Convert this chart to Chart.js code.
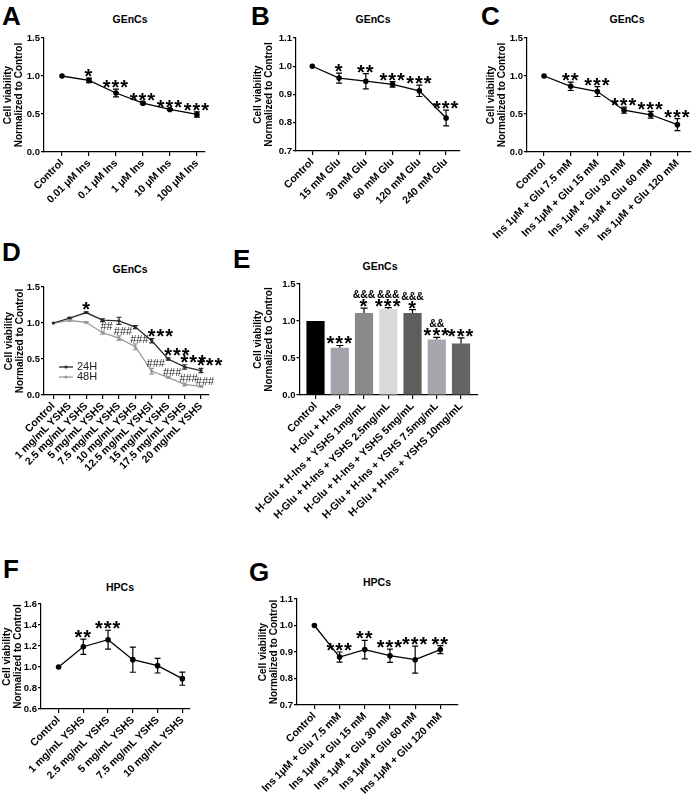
<!DOCTYPE html>
<html>
<head>
<meta charset="utf-8">
<script src="https://cdn.jsdelivr.net/npm/chart.js@4.4.0/dist/chart.umd.min.js"></script>
<style>
  body { margin: 0; background: #fff; width: 699px; height: 795px; position: relative; overflow: hidden; }
  canvas { position: absolute; }
  .lt { position: absolute; font: bold 26px 'Liberation Sans', Arial, sans-serif; line-height: 1; color: #000; }
  .tt { position: absolute; font: bold 10.5px 'Liberation Sans', Arial, sans-serif; line-height: 12px; transform: translateX(-50%); white-space: nowrap; color: #000; }
</style>
</head>
<body>
<div class="lt" style="left:2px;top:3px">A</div>
<div class="lt" style="left:251px;top:3px">B</div>
<div class="lt" style="left:481px;top:3px">C</div>
<div class="lt" style="left:2px;top:239px">D</div>
<div class="lt" style="left:233px;top:246px">E</div>
<div class="lt" style="left:3px;top:556px">F</div>
<div class="lt" style="left:249px;top:559px">G</div>

<div class="tt" style="left:130px;top:13px">GEnCs</div>
<div class="tt" style="left:373px;top:13px">GEnCs</div>
<div class="tt" style="left:627px;top:13px">GEnCs</div>
<div class="tt" style="left:130px;top:263px">GEnCs</div>
<div class="tt" style="left:380px;top:260px">GEnCs</div>
<div class="tt" style="left:120px;top:581px">HPCs</div>
<div class="tt" style="left:377px;top:576px">HPCs</div>

<canvas id="cA"></canvas>
<canvas id="cB"></canvas>
<canvas id="cC"></canvas>
<canvas id="cD"></canvas>
<canvas id="cE"></canvas>
<canvas id="cF"></canvas>
<canvas id="cG"></canvas>

<script>
// ---- data ----
const aLabels = ['Control', '0.01 μM Ins', '0.1 μM Ins', '1 μM Ins', '10 μM Ins', '100 μM Ins'];
const aVals = [1.0, 0.943, 0.776, 0.643, 0.560, 0.494];
const aErr = [0, 0.03, 0.05, 0.012, 0.012, 0.035];
const aSig = ['', '*', '***', '***', '***', '***'];

const bLabels = ['Control', '15 mM Glu', '30 mM Glu', '60 mM Glu', '120 mM Glu', '240 mM Glu'];
const bVals = [1.0, 0.958, 0.947, 0.936, 0.913, 0.817];
const bErr = [0, 0.018, 0.027, 0.01, 0.02, 0.028];
const bSig = ['', '*', '**', '***', '***', '***'];

const cLabels = ['Control', 'Ins 1μM + Glu 7.5 mM', 'Ins 1μM + Glu 15 mM', 'Ins 1μM + Glu 30 mM', 'Ins 1μM + Glu 60 mM', 'Ins 1μM + Glu 120 mM'];
const cVals = [1.0, 0.864, 0.795, 0.55, 0.49, 0.36];
const cErr = [0, 0.055, 0.065, 0.04, 0.045, 0.08];
const cSig = ['', '**', '***', '***', '***', '***'];

const dLabels = ['Control', '1 mg/mL YSHS', '2.5 mg/mL YSHS', '5 mg/mL YSHS', '7.5 mg/mL YSHS', '10 mg/mL YSHS',
  '12.5 mg/mL YSHSl', '15 mg/mL YSHS', '17.5 mg/mL YSHS', '20 mg/mL YSHS'];
const d24Vals = [1.0, 1.067, 1.145, 1.039, 1.03, 0.943, 0.754, 0.50, 0.39, 0.34];
const d24Err = [0, 0.01, 0.01, 0.02, 0.05, 0.02, 0.03, 0.015, 0.03, 0.03];
const d24Sig = ['', '', '*', '', '', '', '***', '***', '***', '***'];
const d48Vals = [1.0, 1.035, 1.01, 0.865, 0.79, 0.67, 0.33, 0.244, 0.147, 0.12];
const d48Err = [0, 0.01, 0.01, 0.02, 0.03, 0.04, 0.04, 0.01, 0.02, 0.01];
const d48Sig = ['', '', '', '##', '###', '###', '###', '###', '###', '###'];

const eLabels = ['Control', 'H-Glu + H-Ins', 'H-Glu + H-Ins + YSHS 1mg/mL', 'H-Glu + H-Ins + YSHS 2.5mg/mL',
  'H-Glu + H-Ins + YSHS 5mg/mL', 'H-Glu + H-Ins + YSHS 7.5mg/mL', 'H-Glu + H-Ins + YSHS 10mg/mL'];
const eVals = [1.0, 0.639, 1.108, 1.162, 1.108, 0.75, 0.697];
const eErr = [0, 0.03, 0.067, 0.02, 0.045, 0.03, 0.076];
const eSig = ['', '***', ['&&&', '*'], ['&&&', '***'], ['&&&', '*'], ['&&', '***'], '***'];
const eColors = ['#000000', '#a2a2aa', '#8a8a8a', '#dadada', '#5e5e5e', '#a6a6ae', '#646464'];

const fLabels = ['Control', '1 mg/mL YSHS', '2.5 mg/mL YSHS', '5 mg/mL YSHS', '7.5 mg/mL YSHS', '10 mg/mL YSHS'];
const fVals = [1.0, 1.193, 1.26, 1.07, 1.013, 0.889];
const fErr = [0, 0.073, 0.09, 0.12, 0.07, 0.063];
const fSig = ['', '**', '***', '', '', ''];

const gLabels = cLabels;
const gVals = [1.0, 0.881, 0.909, 0.886, 0.871, 0.909];
const gErr = [0, 0.019, 0.035, 0.025, 0.051, 0.015];
const gSig = ['', '***', '**', '***', '***', '**'];

// ---- drawing helpers ----
const FONT = "'Liberation Sans', Arial, sans-serif";
const PAD_T = 10, PAD_R = 26;

function pts(vals) {
  return vals.map((v, i) => ({ x: i, y: v }));
}

function sigFont(txt) {
  if (txt[0] === '*') return { font: 'bold 20px ' + FONT, spacing: '1px' };
  if (txt[0] === '#') return { font: '11px ' + FONT, spacing: '0px' };
  return { font: 'bold 10.5px ' + FONT, spacing: '0px' };
}

// error bars + significance marks
const marks = {
  id: 'marks',
  afterDatasetsDraw(chart) {
    const ctx = chart.ctx, ys = chart.scales.y;
    chart.data.datasets.forEach((ds, d) => {
      const meta = chart.getDatasetMeta(d);
      ctx.save();
      ctx.strokeStyle = ds.errColor || '#000';
      ctx.lineWidth = 1.2;
      const cap = ds.cap || 3;
      (ds.err || []).forEach((e, i) => {
        if (!e) return;
        const p = meta.data[i], v = ds.data[i].y;
        const t = ys.getPixelForValue(v + e);
        const b = ys.getPixelForValue(ds.upOnly ? v : v - e);
        ctx.beginPath();
        ctx.moveTo(p.x, t); ctx.lineTo(p.x, b);
        ctx.moveTo(p.x - cap, t); ctx.lineTo(p.x + cap, t);
        if (!ds.upOnly) { ctx.moveTo(p.x - cap, b); ctx.lineTo(p.x + cap, b); }
        ctx.stroke();
      });
      ctx.fillStyle = ds.sigColor || '#000';
      (ds.sig || []).forEach((s, i) => {
        if (!s) return;
        const rows = Array.isArray(s) ? s : [s];
        const p = meta.data[i];
        let cy = ys.getPixelForValue(ds.data[i].y + (ds.err ? ds.err[i] : 0)) - (ds.sigGap || 5);
        for (let r = rows.length - 1; r >= 0; r--) {
          const f = sigFont(rows[r]);
          ctx.font = f.font;
          ctx.letterSpacing = f.spacing;
          const m = ctx.measureText(rows[r]);
          const base = cy + (m.actualBoundingBoxAscent - m.actualBoundingBoxDescent) / 2;
          if (ds.sigLeft) {
            ctx.textAlign = 'left';
            ctx.fillText(rows[r], p.x - 4, base);
          } else {
            ctx.textAlign = 'center';
            ctx.fillText(rows[r], p.x + (ds.sigDx || 0), base);
          }
          cy -= 9;
        }
      });
      ctx.restore();
    });
  }
};

// small legend inside plot D, lower left
const innerLegend = {
  id: 'innerLegend',
  afterDraw(chart) {
    const ctx = chart.ctx, a = chart.chartArea;
    chart.data.datasets.forEach((ds, i) => {
      const x = a.left + 15, y = a.bottom - 28 + i * 10;
      ctx.save();
      ctx.strokeStyle = ds.borderColor; ctx.fillStyle = ds.borderColor; ctx.lineWidth = 1.3;
      ctx.beginPath(); ctx.moveTo(x, y); ctx.lineTo(x + 14, y); ctx.stroke();
      ctx.beginPath(); ctx.arc(x + 7, y, 1.6, 0, Math.PI * 2); ctx.fill();
      ctx.fillStyle = '#222'; ctx.font = '11px ' + FONT; ctx.textBaseline = 'middle';
      ctx.fillText(ds.label, x + 18, y);
      ctx.restore();
    });
  }
};

function panel(id, box, type, labels, datasets, y, plugins) {
  const cv = document.getElementById(id);
  cv.width = box.yw + box.w + PAD_R;
  cv.height = PAD_T + box.h + box.xh;
  cv.style.left = box.x + 'px';
  cv.style.top = (box.top - PAD_T) + 'px';
  return new Chart(cv, {
    type: type,
    data: { datasets: datasets },
    options: {
      responsive: false,
      animation: false,
      events: [],
      layout: { padding: { top: PAD_T, right: PAD_R, left: 0, bottom: 0 } },
      plugins: { legend: { display: false }, tooltip: { enabled: false } },
      scales: {
        x: {
          type: 'linear', min: box.xmin, max: box.xmax, offset: false,
          afterBuildTicks: s => { s.ticks = labels.map((l, i) => ({ value: i })); },
          afterFit: s => { s.height = box.xh; },
          ticks: {
            autoSkip: false, minRotation: 45, maxRotation: 45, padding: 1, color: '#000',
            font: { family: FONT, size: 10.5, weight: 'bold' },
            callback: v => labels[v]
          },
          grid: { display: true, drawOnChartArea: false, offset: false, tickLength: 4, color: '#000', lineWidth: 1.2 },
          border: { color: '#000', width: 1.2 }
        },
        y: {
          min: y.min, max: y.max,
          afterFit: s => { s.width = box.yw; },
          ticks: {
            stepSize: y.step, color: '#000', padding: 1,
            font: { family: FONT, size: 9.5, weight: 'bold' },
            callback: v => v.toFixed(1)
          },
          grid: { display: true, drawOnChartArea: false, tickLength: 3, color: '#000', lineWidth: 1.2 },
          border: { color: '#000', width: 1.2 },
          title: {
            display: true, text: ['Cell viability', 'Normalized to Control'], color: '#000', padding: 0,
            font: { family: FONT, size: 10, weight: 'bold', lineHeight: 1.18 }
          }
        }
      }
    },
    plugins: plugins
  });
}

function lineSet(vals, err, sig, extra) {
  return Object.assign({
    data: pts(vals), err: err, sig: sig,
    borderColor: '#000', backgroundColor: '#000', borderWidth: 1.3,
    pointRadius: 2.8, pointBorderWidth: 0, pointBackgroundColor: '#000', tension: 0
  }, extra || {});
}

// ---- panels ----
panel('cA', { x: 2, yw: 42, w: 161, top: 37.7, h: 114, xh: 100, xmin: -0.667, xmax: 5.3 }, 'line', aLabels,
  [lineSet(aVals, aErr, aSig)], { min: 0, max: 1.5, step: 0.5 }, [marks]);

panel('cB', { x: 252, yw: 44, w: 164, top: 38.3, h: 113, xh: 100, xmin: -0.61, xmax: 5.52 }, 'line', bLabels,
  [lineSet(bVals, bErr, bSig)], { min: 0.7, max: 1.1, step: 0.1 }, [marks]);

panel('cC', { x: 485, yw: 42, w: 164, top: 37.7, h: 114, xh: 110, xmin: -0.64, xmax: 5.51 }, 'line', cLabels,
  [lineSet(cVals, cErr, cSig)], { min: 0, max: 1.5, step: 0.5 }, [marks]);

panel('cD', { x: 2.5, yw: 41, w: 165, top: 286.7, h: 108.6, xh: 110, xmin: -0.57, xmax: 9.49 }, 'line', dLabels,
  [
    lineSet(d24Vals, d24Err, d24Sig, { label: '24H', borderColor: '#2a2a2a', pointBackgroundColor: '#2a2a2a', errColor: '#2a2a2a',
      pointRadius: 1.6, cap: 2.5, sigLeft: true, sigGap: 6 }),
    lineSet(d48Vals, d48Err, d48Sig, { label: '48H', borderColor: '#999999', pointBackgroundColor: '#999999', errColor: '#999999',
      pointRadius: 1.6, cap: 2.5, sigDx: 4, sigGap: 5, sigColor: '#222' })
  ], { min: 0, max: 1.5, step: 0.5 }, [marks, innerLegend]);

panel('cE', { x: 251.5, yw: 47.5, w: 179, top: 284.3, h: 111.7, xh: 165, xmin: -0.66, xmax: 6.7 }, 'bar', eLabels,
  [{
    data: pts(eVals), err: eErr, sig: eSig, upOnly: true, cap: 3.5,
    backgroundColor: eColors, borderWidth: 0, barPercentage: 0.75, categoryPercentage: 1
  }], { min: 0, max: 1.5, step: 0.5 }, [marks]);

panel('cF', { x: 0.5, yw: 40, w: 149, top: 604, h: 105.3, xh: 90, xmin: -0.71, xmax: 5.31 }, 'line', fLabels,
  [lineSet(fVals, fErr, fSig)], { min: 0.6, max: 1.6, step: 0.2 }, [marks]);

panel('cG', { x: 257, yw: 40, w: 161, top: 599, h: 106.7, xh: 100, xmin: -0.69, xmax: 5.70 }, 'line', gLabels,
  [lineSet(gVals, gErr, gSig)], { min: 0.7, max: 1.1, step: 0.1 }, [marks]);
</script>
</body>
</html>
